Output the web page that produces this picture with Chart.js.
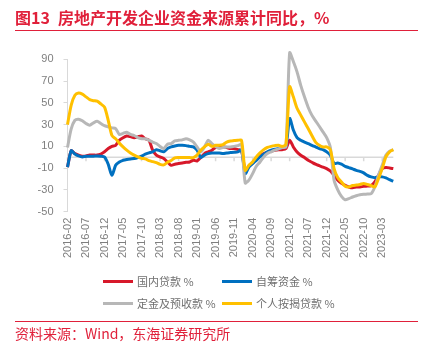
<!DOCTYPE html>
<html>
<head>
<meta charset="utf-8">
<script src="https://cdn.jsdelivr.net/npm/chart.js@4.4.1/dist/chart.umd.min.js"></script>
<style>
  body { margin: 0; width: 428px; height: 351px; background: #fff; position: relative; overflow: hidden; font-family: "Noto Sans CJK SC", sans-serif; }
  #myChart { position: absolute; left: 0; top: 0; }
  #title { position: absolute; left: 15px; top: 6px; font-size: 16px; font-weight: bold; color: #e0203a; line-height: 22px; white-space: nowrap; }
  #title .num { display: inline-block; width: 43px; }
  .rule { position: absolute; left: 15px; width: 403px; height: 1px; background: #e0203a; }
  #legend { position: absolute; left: 103px; top: 270px; display: grid; grid-template-columns: 119px 119px; }
  .item { display: flex; align-items: center; height: 22px; font-size: 11px; color: #707070; white-space: nowrap; }
  .swatch { width: 30px; height: 3px; margin-right: 4px; }
  #source { position: absolute; left: 15px; top: 324px; font-size: 14px; line-height: 18px; color: #e0203a; white-space: nowrap; }
</style>
</head>
<body>
<canvas id="myChart" width="428" height="351"></canvas>
<div id="title"><span class="num">图13</span>房地产开发企业资金来源累计同比，%</div>
<div class="rule" style="top:30px"></div>
<div id="legend"></div>
<div class="rule" style="top:321px"></div>
<div id="source">资料来源：Wind，东海证券研究所</div>
<script>
const ctx = document.getElementById("myChart").getContext("2d");

// 月份
const categories = [
  "2016-02","2016-03","2016-04","2016-05","2016-06","2016-07","2016-08","2016-09","2016-10","2016-11","2016-12",
  "2017-01","2017-02","2017-03","2017-04","2017-05","2017-06","2017-07","2017-08","2017-09","2017-10","2017-11","2017-12",
  "2018-01","2018-02","2018-03","2018-04","2018-05","2018-06","2018-07","2018-08","2018-09","2018-10","2018-11","2018-12",
  "2019-01","2019-02","2019-03","2019-04","2019-05","2019-06","2019-07","2019-08","2019-09","2019-10","2019-11","2019-12",
  "2020-01","2020-02","2020-03","2020-04","2020-05","2020-06","2020-07","2020-08","2020-09","2020-10","2020-11","2020-12",
  "2021-01","2021-02","2021-03","2021-04","2021-05","2021-06","2021-07","2021-08","2021-09","2021-10","2021-11","2021-12",
  "2022-01","2022-02","2022-03","2022-04","2022-05","2022-06","2022-07","2022-08","2022-09","2022-10","2022-11","2022-12",
  "2023-01","2023-02","2023-03","2023-04","2023-05","2023-06"
];

// 顯示的刻度
const xTickLabels = ["2016-02","2016-07","2016-12","2017-05","2017-10","2018-03","2018-08","2019-01","2019-06",
  "2019-11","2020-04","2020-09","2021-02","2021-07","2021-12","2022-05","2022-10","2023-03"];
const yTickValues = [-50, -30, -10, 10, 30, 50, 70, 90];

const seriesNames = ["国内贷款 %", "自筹资金 %", "定金及预收款 %", "个人按揭贷款 %"];

// 國內貸款
const domesticLoans = [
  -9, 6, 3.4, 2, 1, 1.2, 2, 2, 2, 3,
  5, 8, 10, 11, 15.6, 18, 19.6, 19, 18, 18.7,
  19.6, 17, 15.6, 6.5, 2, 0.3, -1.2, -4.3, -7.4, -6.4,
  -5.8, -5.2, -4.6, -4.3, -2.8, -3.4, -0.3, 3.4, 5, 6.5,
  9, 10, 9.5, 9, 8, 8, 7, 6.5,
  -12.6, -8.3, -5.2, -1.2, 1.8, 3.4, 4.6, 5.5, 6.5, 7, 7, 8,
  15.6, 9.5, 4.9, 1.8, -0.3, -2.8, -4.6, -6.4, -7.7, -9,
  -10.4, -12.6, -16.6, -21, -24, -25.8, -27.3, -28, -27.3, -27.3,
  -26.7, -26.4, -26, -22.7, -16.6, -10.4, -9.5, -9.8, -10.4
];

// 自籌資金
const selfRaised = [
  -9, 6, 3, 1.2, 0.3, 1, 1, 1, 1.2, 1,
  0.3, -6.4, -16.6, -7.4, -4.3, -2.8, -2, -1.5, -1.2, -0.3,
  1, 2.8, 4, 5, 7, 6, 5, 8, 9.5, 10.4,
  11, 11, 10.7, 10, 9.5, 6.5, -0.3, 2, 3.4, 4,
  4, 4, 3.4, 4, 4.3, 4.6, 5, 6.5,
  -15, -9, -5.8, -2.8, 0.3, 2.8, 5, 6.5, 7.4, 8, 9, 10,
  35.6, 25, 18, 15.6, 14, 12.6, 11, 9.5, 8, 7,
  5, 2, -5.8, -5.2, -6.4, -8.3, -9.5, -10.7, -12, -13,
  -14.4, -16.6, -18, -18.7, -18, -18, -19, -20.6, -22
];

// 定金及預收款
const depositsAdvance = [
  9, 26, 34, 35, 33.5, 31, 29.5, 31.6, 33, 31,
  29, 28, 27, 26.4, 21, 22, 23, 21, 20, 18,
  17, 17, 15.6, 14, 12.6, 10, 8, 12, 12.6, 15,
  15.6, 16, 17, 16, 14, 9.5, 5, 9.5, 15.6, 12.6,
  10, 8, 9, 9.5, 9.5, 10, 10.7, 11.7,
  -23.6, -21, -15, -8.3, -4.3, 0.3, 3.4, 5, 6.5, 7.7, 9, 9.5,
  96, 88, 78.5, 66, 55.5, 46, 38.7, 33.5, 28.5, 23.3,
  18, 9, -21, -30, -36, -39, -38, -36.5, -35.3, -34.4,
  -34, -33.8, -33.5, -27.3, -16.6, -7.4, 1.8, 5.5, 7
];

// 個人按揭貸款
const mortgageLoans = [
  30, 48, 57, 59, 58, 55.5, 53, 52, 51.5, 49,
  46, 34, 20, 17, 13, 9.5, 6.5, 4, 2, 0.3,
  -1, -1.5, -3, -4, -5, -6.5, -7, -4.6, -3, -0.6,
  -0.3, -0.3, -0.3, -0.3, -0.3, 2, 6.5, 9.5, 12, 10,
  11, 11, 11.7, 14, 15, 15.3, 15.6, 15.6,
  -12, -7.4, -4.3, 0.3, 4, 7, 9, 10, 10.7, 11, 10, 12,
  64.7, 55.5, 45, 38.7, 32.5, 26.4, 20, 14, 11, 9.5,
  9.5, 7, -10.4, -18.7, -22.7, -26.7, -27.3, -26, -25.5, -25,
  -24, -25, -26, -27.3, -19.6, -10.4, 0.3, 5, 7
];

const seriesColors = ["#d7182a", "#0070c0", "#b7b7b7", "#ffc000"];
const seriesData = [domesticLoans, selfRaised, depositsAdvance, mortgageLoans];

// 零軸線與刻度
const zeroLinePlugin = {
  id: "zeroLine",
  beforeDatasetsDraw(chart) {
    const { ctx, chartArea: { left, right }, scales: { x, y } } = chart;
    const y0 = y.getPixelForValue(0);
    ctx.save();
    ctx.strokeStyle = "#d9d9d9";
    ctx.lineWidth = 1.5;
    ctx.beginPath();
    ctx.moveTo(left, y0);
    ctx.lineTo(right, y0);
    categories.forEach((c, i) => {
      if (xTickLabels.includes(c)) {
        const xp = x.getPixelForValue(i);
        ctx.moveTo(xp, y0);
        ctx.lineTo(xp, y0 + 4);
      }
    });
    ctx.stroke();
    ctx.restore();
  },
};

const tickFont = { family: "'Liberation Sans', Arial, sans-serif", size: 11 };

const myChart = new Chart(ctx, {
  type: "line",
  data: {
    labels: categories,
    datasets: seriesNames.map((name, i) => ({
      label: name,
      data: seriesData[i],
      borderColor: seriesColors[i],
      backgroundColor: seriesColors[i],
      borderWidth: 3,
      pointRadius: 0,
      tension: 0.25,
      fill: false,
      clip: false, // 峰值超出 90 也要畫出
      order: 3 - i, // 後面的系列畫在上面
    })),
  },
  options: {
    responsive: false,
    animation: false,
    devicePixelRatio: 1,
    layout: {
      padding: { left: 27.5, top: 59.3, right: 34.7, bottom: 89.3 },
    },
    scales: {
      x: {
        grid: { display: false, drawTicks: false },
        border: { display: false },
        ticks: {
          autoSkip: false,
          minRotation: 90,
          maxRotation: 90,
          padding: 6,
          color: "#7f7f7f",
          font: tickFont,
          callback: (val, idx) => (xTickLabels.includes(categories[idx]) ? categories[idx] : ""),
        },
        afterFit: (scale) => { scale.height = 50; },
      },
      y: {
        min: -50,
        max: 90,
        grid: {
          drawOnChartArea: false,
          drawTicks: true,
          tickLength: 4,
          tickColor: "#d9d9d9",
        },
        border: { display: true, color: "#d9d9d9", width: 1 },
        ticks: {
          padding: 10,
          color: "#7f7f7f",
          font: tickFont,
        },
        afterBuildTicks: (scale) => { scale.ticks = yTickValues.map((v) => ({ value: v })); },
        afterFit: (scale) => { scale.width = 40; },
      },
    },
    plugins: {
      legend: { display: false },
      tooltip: { enabled: false },
    },
  },
  plugins: [zeroLinePlugin],
});

// HTML 圖例
const legendEl = document.getElementById("legend");
seriesNames.forEach((name, i) => {
  const item = document.createElement("div");
  item.className = "item";
  item.innerHTML = '<span class="swatch" style="background:' + seriesColors[i] + '"></span>' + name;
  legendEl.appendChild(item);
});
</script>
</body>
</html>
